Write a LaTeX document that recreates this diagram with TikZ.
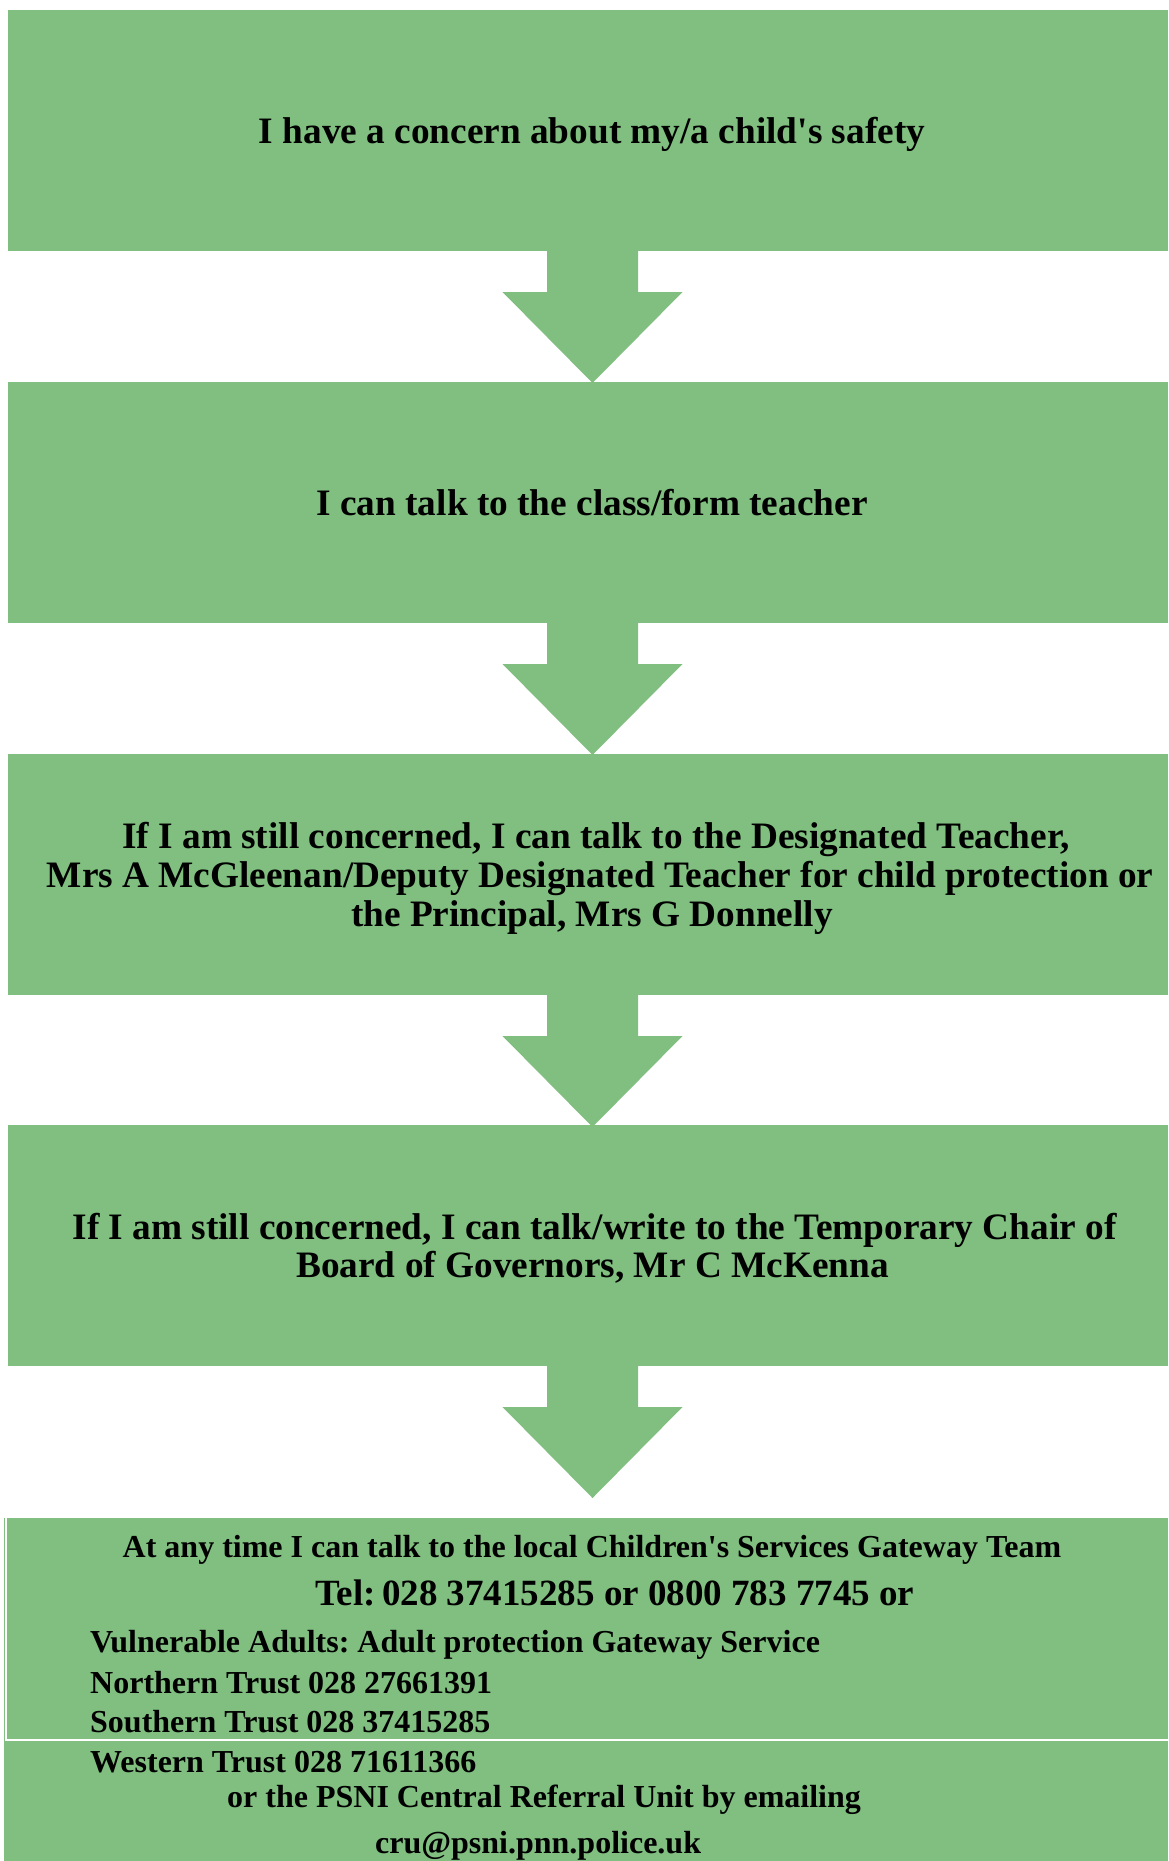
\documentclass[tikz,border=0pt]{standalone}
\usepackage{fontspec}
\setmainfont{Liberation Serif}
\usetikzlibrary{calc}
\definecolor{boxgreen}{RGB}{128,191,128}
\frenchspacing
\tikzset{
  flowbox/.style={fill=boxgreen, draw=none, inner sep=0pt, outer sep=0pt, minimum width=1160pt, minimum height=241pt, anchor=north west},
  lastbox/.style={fill=boxgreen, draw=none, inner sep=0pt, outer sep=0pt, minimum width=1164pt, minimum height=343pt, anchor=north west},
  bigtxt/.style={font=\bfseries\fontsize{37.3}{38.8}\selectfont, inner sep=0pt, anchor=base},
  telttxt/.style={font=\bfseries\fontsize{37}{38}\selectfont, inner sep=0pt, anchor=base},
  smalltxt/.style={font=\bfseries\fontsize{32}{34}\selectfont, inner sep=0pt, anchor=base west},
  smallc/.style={font=\bfseries\fontsize{32}{34}\selectfont, inner sep=0pt, anchor=base},
  arrowfill/.style={fill=boxgreen, draw=none},
  tableline/.style={draw=white, line width=2pt}
}
\newcommand{\flowarrow}[2]{%
  \coordinate (#2) at ($(#1.south)+(4.5,0)$);
  \fill[arrowfill] ($(#2)+(-45.5,-0.5)$) -- ($(#2)+(45.5,-0.5)$) -- ($(#2)+(45.5,41)$)
    -- ($(#2)+(90,41)$) -- ($(#2)+(0,132)$) -- ($(#2)+(-90,41)$) -- ($(#2)+(-45.5,41)$) -- cycle;}
\begin{document}
\begin{tikzpicture}[x=1pt,y=-1pt]
\useasboundingbox[fill=white] (0,0) rectangle (1168,1861);
% boxes
\node[flowbox] (b1) at (8,10) {};
\node[flowbox] (b2) at (8,382) {};
\node[flowbox] (b3) at (8,754) {};
\node[flowbox] (b4) at (8,1125) {};
\node[lastbox] (b5) at (4,1518) {};
% arrows
\flowarrow{b1}{a1}
\flowarrow{b2}{a2}
\flowarrow{b3}{a3}
\flowarrow{b4}{a4}
% table lines in last box
\coordinate (c1) at ($(b5.north west)+(2,0)$);
\coordinate (c2) at ($(b5.north west)+(2,222)$);
\coordinate (c3) at ($(b5.north east)+(0,222)$);
\draw[tableline] (c1) -- (c2) -- (c3);
% texts
\node[bigtxt] (t1) at (592,143) {I have a concern about my/a child\textquotesingle s safety};
\node[bigtxt] (t2) at (592,515) {I can talk to the class/form teacher};
\node[bigtxt] (t3a) at (596,848) {If I am still concerned, I can talk to the Designated Teacher,};
\node[bigtxt] (t3b) at (600,887) {Mrs A McGleenan/Deputy Designated Teacher for child protection or};
\node[bigtxt] (t3c) at (592,926) {the Principal, Mrs G Donnelly};
\node[bigtxt] (t4a) at (594.5,1239) {If I am still concerned, I can talk/write to the Temporary Chair of};
\node[bigtxt] (t4b) at (592.5,1277) {Board of Governors, Mr C McKenna};
\node[smallc] (t5a) at (592,1557) {At any time I can talk to the local Children\textquotesingle s Services Gateway Team};
\node[telttxt] (t5b) at (615,1605) {Tel:\,028 37415285 or 0800 783 7745 or};
\node[smalltxt] (t5c) at (90,1652) {Vulnerable Adults: Adult protection Gateway Service};
\node[smalltxt] (t5d) at (90,1693) {Northern Trust 028 27661391};
\node[smalltxt] (t5e) at (90,1732) {Southern Trust 028 37415285};
\node[smalltxt] (t5f) at (90,1772) {Western Trust 028 71611366};
\node[smalltxt] (t5g) at (227,1807) {or the PSNI Central Referral Unit by emailing};
\node[smalltxt] (t5h) at (375,1853) {cru@psni.pnn.police.uk};
\end{tikzpicture}
\end{document}
